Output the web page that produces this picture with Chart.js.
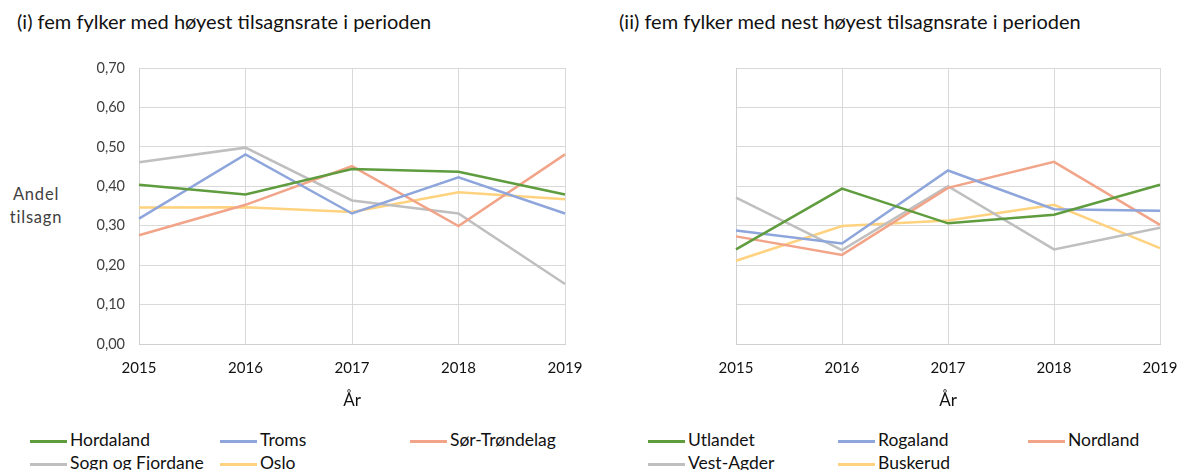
<!DOCTYPE html>
<html>
<head>
<meta charset="utf-8">
<script src="https://cdn.jsdelivr.net/npm/chart.js@4"></script>
<style>
  body { margin: 0; background: #fff; font-family: Lato, sans-serif; color: #222; }
  #wrap { position: relative; width: 1181px; height: 470px; overflow: hidden; }
  .panel { position: absolute; top: 0; height: 420px; }
  .title { position: absolute; top: 9px; font-size: 20px; white-space: nowrap; color: #111; }
  .ytitle { position: absolute; font-size: 16.5px; text-align: center; line-height: 23px; color: #404040; letter-spacing: 0.8px; }
  .legend { position: absolute; top: 429px; font-size: 17.5px; color: #111; }
  .legend .item { position: absolute; white-space: nowrap; height: 22px; line-height: 22px; }
  .legend .swatch { display: inline-block; width: 37px; height: 3px; vertical-align: middle; margin-right: 3px; }
</style>
</head>
<body>
<div id="wrap">
  <div class="title" style="left:17px">(i) fem fylker med høyest tilsagnsrate i perioden</div>
  <div class="title" style="left:619px">(ii) fem fylker med nest høyest tilsagnsrate i perioden</div>
  <div class="ytitle" style="left:0px; top:183px; width:72px">Andel<br>tilsagn</div>
  <div class="panel" style="left:0; width:590px"><canvas id="chartLeft"></canvas></div>
  <div class="panel" style="left:590px; width:591px"><canvas id="chartRight"></canvas></div>
  <div class="legend" id="legendLeft" style="left:30px"></div>
  <div class="legend" id="legendRight" style="left:648px"></div>
</div>
<script>
// Categories and tick labels
const years = ['2015', '2016', '2017', '2018', '2019'];
const yTickLabels = ['0,00', '0,10', '0,20', '0,30', '0,40', '0,50', '0,60', '0,70'];
const seriesColors = ['#5e9c3e', '#8ea6db', '#f2a489', '#bfbfbf', '#ffd27f'];

// (i) five counties with highest rate
const leftNames = ['Hordaland', 'Troms', 'Sør-Trøndelag', 'Sogn og Fjordane', 'Oslo'];
const hordaland = [0.404, 0.379, 0.444, 0.437, 0.379];
const troms = [0.318, 0.481, 0.331, 0.423, 0.331];
const sorTrondelag = [0.276, 0.353, 0.451, 0.299, 0.481];
const sognOgFjordane = [0.461, 0.498, 0.364, 0.331, 0.152];
const oslo = [0.346, 0.347, 0.335, 0.385, 0.367];

// (ii) five counties with next highest rate
const rightNames = ['Utlandet', 'Rogaland', 'Nordland', 'Vest-Agder', 'Buskerud'];
const utlandet = [0.240, 0.394, 0.306, 0.328, 0.404];
const rogaland = [0.288, 0.255, 0.440, 0.342, 0.338];
const nordland = [0.273, 0.226, 0.396, 0.462, 0.302];
const vestAgder = [0.371, 0.238, 0.400, 0.240, 0.295];
const buskerud = [0.211, 0.299, 0.313, 0.353, 0.243];

// legend grid: 3 columns, 2 rows
const legendCols = 3;
const legendColWidth = 190;
const legendRowHeight = 23;

function makeDatasets(names, values) {
  return names.map((name, i) => ({
    label: name,
    data: values[i],
    borderColor: seriesColors[i],
    backgroundColor: seriesColors[i],
    borderWidth: 2.5,
    pointRadius: 0,
    tension: 0
  }));
}

function makeChart(canvasId, names, values, yAxisWidth, showYTicks, rightPad) {
  const ctx = document.getElementById(canvasId).getContext('2d');
  return new Chart(ctx, {
    type: 'line',
    data: { labels: years, datasets: makeDatasets(names, values) },
    options: {
      responsive: true,
      maintainAspectRatio: false,
      animation: false,
      layout: { padding: { top: 68, right: rightPad, left: 0, bottom: 0 } },
      plugins: { legend: { display: false }, tooltip: { enabled: false } },
      scales: {
        x: {
          offset: false,
          grid: { color: '#d9d9d9', drawTicks: false },
          border: { color: '#d0d0d0' },
          ticks: { color: '#111', padding: 15, maxRotation: 0, font: { family: 'Lato', size: 15 } },
          title: { display: true, text: 'År', color: '#111', font: { family: 'Lato', size: 17 }, padding: { top: 0, bottom: 9 } },
          afterFit: (scale) => {
            scale.height = 76;
            // keep the plot edge where the padding puts it
            scale.paddingLeft = 0;
            scale.paddingRight = 0;
          }
        },
        y: {
          min: 0,
          max: 0.7,
          grid: { color: '#d9d9d9', drawTicks: false },
          border: { color: '#d0d0d0' },
          ticks: {
            display: showYTicks,
            stepSize: 0.1,
            padding: 14,
            color: '#404040',
            font: { family: 'Lato', size: 14.5 },
            callback: (v, i) => yTickLabels[i]
          },
          afterFit: (scale) => { scale.width = yAxisWidth; }
        }
      }
    }
  });
}

function makeLegend(elId, names) {
  const el = document.getElementById(elId);
  names.forEach((name, i) => {
    const item = document.createElement('div');
    item.className = 'item';
    item.style.left = (i % legendCols) * legendColWidth + 'px';
    item.style.top = Math.floor(i / legendCols) * legendRowHeight + 'px';
    item.innerHTML = `<span class="swatch" style="background:${seriesColors[i]}"></span>${name}`;
    el.appendChild(item);
  });
}

makeChart('chartLeft', leftNames, [hordaland, troms, sorTrondelag, sognOgFjordane, oslo], 139, true, 25);
makeChart('chartRight', rightNames, [utlandet, rogaland, nordland, vestAgder, buskerud], 146, false, 21);
makeLegend('legendLeft', leftNames);
makeLegend('legendRight', rightNames);
</script>
</body>
</html>
